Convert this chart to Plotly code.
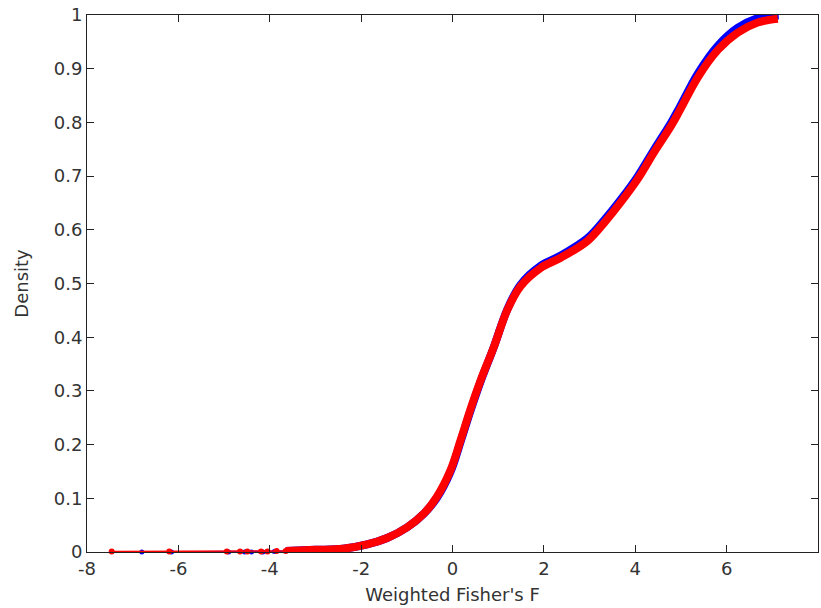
import plotly.graph_objects as go

# ---- data ----
red_main_x = [-3.65, -3.0, -2.4, -1.87, -1.43, -0.99, -0.62, -0.34, -0.04, 0.18, 0.39,
              0.60, 0.91, 1.20, 1.49, 1.93, 2.37, 2.95, 3.32, 3.68, 4.05, 4.41, 4.78,
              4.96, 5.37, 5.81, 6.24, 6.68, 7.12]
red_main_y = [0.002, 0.004, 0.006, 0.014, 0.026, 0.046, 0.072, 0.103, 0.153, 0.209, 0.265,
              0.316, 0.383, 0.451, 0.495, 0.529, 0.548, 0.579, 0.613, 0.651, 0.694, 0.744,
              0.793, 0.820, 0.884, 0.935, 0.967, 0.986, 0.993]
blue_main_x = [-3.65, -3.0, -2.4, -1.87, -1.43, -0.99, -0.62, -0.34, -0.04, 0.18, 0.39,
               0.60, 0.91, 1.20, 1.49, 1.93, 2.37, 2.95, 3.32, 3.68, 4.05, 4.41, 4.78,
               4.96, 5.37, 5.81, 6.24, 6.68, 7.14]
blue_main_y = [0.002, 0.004, 0.006, 0.014, 0.026, 0.046, 0.072, 0.101, 0.150, 0.206, 0.262,
               0.314, 0.383, 0.452, 0.498, 0.533, 0.552, 0.584, 0.618, 0.656, 0.699, 0.749,
               0.799, 0.826, 0.891, 0.943, 0.976, 0.994, 0.999]
red_tail_x = [-7.46, -6.2, -4.94, -4.65, -4.49, -4.19, -4.05, -3.85, -3.65]
red_tail_y = [0.001, 0.001, 0.001, 0.001, 0.001, 0.001, 0.001, 0.002, 0.002]
blue_tail_x = [-6.8, -6.15, -4.9, -4.55, -4.4, -4.15, -3.9, -3.65]
blue_tail_y = [0.0, 0.0, 0.0, 0.0, 0.0, 0.0, 0.001, 0.002]

x_tick_vals = [-8, -6, -4, -2, 0, 2, 4, 6, 8]
x_tick_text = ["-8", "-6", "-4", "-2", "0", "2", "4", "6", "8"]
y_tick_vals = [0, 0.1, 0.2, 0.3, 0.4, 0.5, 0.6, 0.7, 0.8, 0.9, 1]
y_tick_text = ["0", "0.1", "0.2", "0.3", "0.4", "0.5", "0.6", "0.7", "0.8", "0.9", "1"]

BLUE = "#0000ff"
RED = "#ff0000"

fig = go.Figure()
fig.add_trace(go.Scatter(x=blue_tail_x, y=blue_tail_y, mode="lines+markers",
                         line=dict(color=BLUE, width=1.5), marker=dict(color=BLUE, size=5),
                         showlegend=False, cliponaxis=False))
fig.add_trace(go.Scatter(x=blue_main_x, y=blue_main_y, mode="lines",
                         line=dict(color=BLUE, width=8, shape="spline", smoothing=1.0),
                         showlegend=False))
fig.add_trace(go.Scatter(x=red_tail_x, y=red_tail_y, mode="lines+markers",
                         line=dict(color=RED, width=1.5), marker=dict(color=RED, size=6),
                         showlegend=False, cliponaxis=False))
fig.add_trace(go.Scatter(x=red_main_x, y=red_main_y, mode="lines",
                         line=dict(color=RED, width=8, shape="spline", smoothing=1.0),
                         showlegend=False))

font = dict(family="DejaVu Sans", size=18, color="#333333")
axis_common = dict(showgrid=False, zeroline=False, showline=True, linecolor="#222222",
                   linewidth=1, mirror="ticks", ticks="inside", ticklen=7,
                   tickcolor="#222222", tickfont=font)

fig.update_layout(
    width=821, height=608,
    margin=dict(l=87, r=3, t=15, b=56),
    paper_bgcolor="white", plot_bgcolor="white",
    xaxis=dict(range=[-8, 8], tickvals=x_tick_vals, ticktext=x_tick_text,
               title=dict(text="Weighted Fisher's F", font=font, standoff=10),
               **axis_common),
    yaxis=dict(range=[0, 1], tickvals=y_tick_vals, ticktext=y_tick_text,
               title=dict(text="Density", font=font, standoff=20),
               **axis_common),
)

fig.write_html("out.html")
